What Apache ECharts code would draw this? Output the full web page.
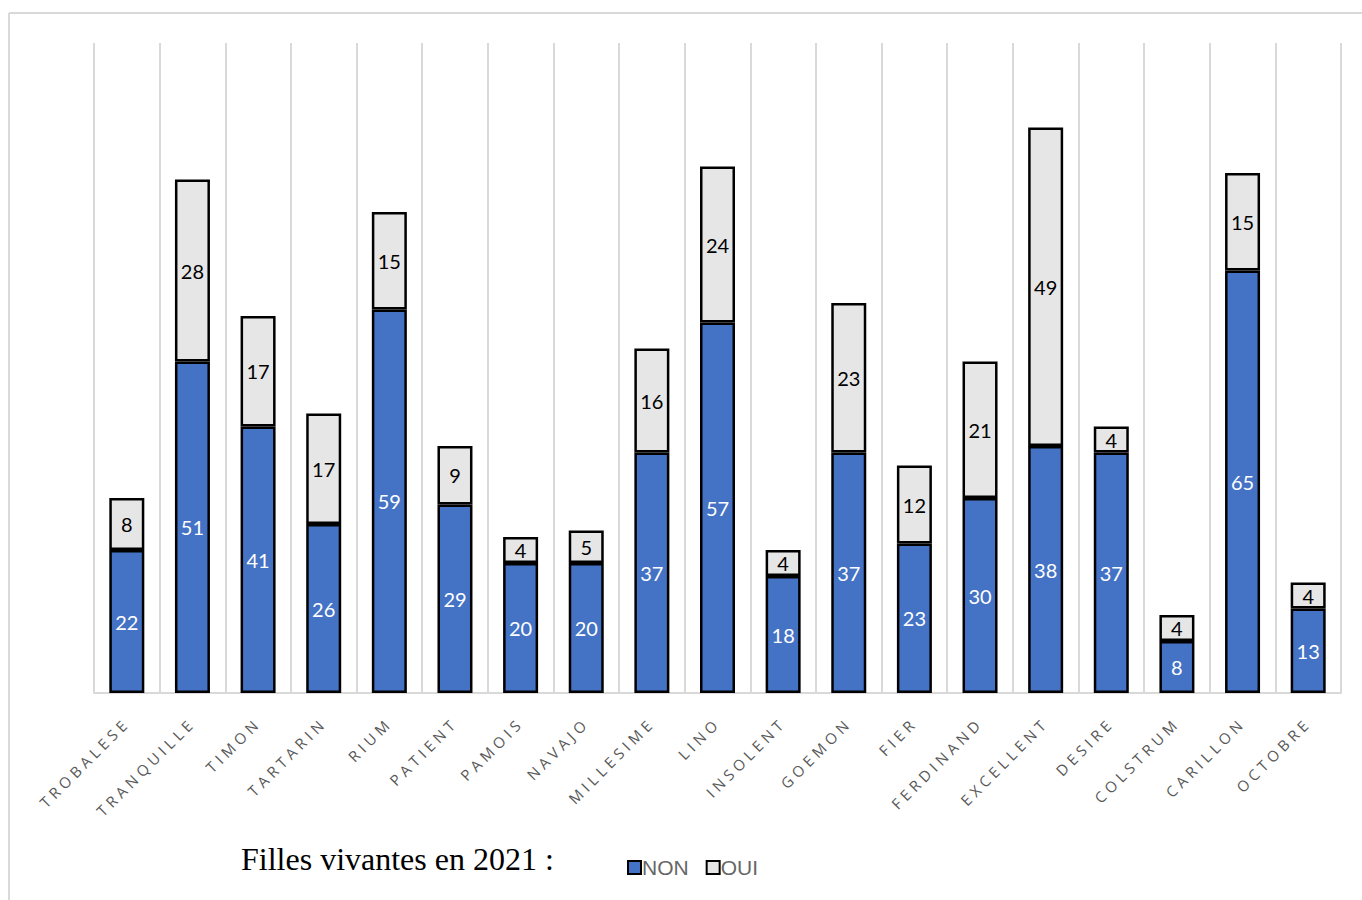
<!DOCTYPE html>
<html>
<head>
<meta charset="utf-8">
<script src="https://cdn.jsdelivr.net/npm/echarts@6/dist/echarts.min.js"></script>
<style>
html,body{margin:0;padding:0;background:#fff;}
#chart{width:1362px;height:900px;}
#chart text[fill="#595959"]{letter-spacing:4.3px;}
</style>
</head>
<body>
<div id="chart"></div>
<script>
const categories = ["TROBALESE","TRANQUILLE","TIMON","TARTARIN","RIUM","PATIENT","PAMOIS","NAVAJO","MILLESIME","LINO","INSOLENT","GOEMON","FIER","FERDINAND","EXCELLENT","DESIRE","COLSTRUM","CARILLON","OCTOBRE"];
const nonValues = [22,51,41,26,59,29,20,20,37,57,18,37,23,30,38,37,8,65,13];
const ouiValues = [8,28,17,17,15,9,4,5,16,24,4,23,12,21,49,4,4,15,4];
const legendTitle = "Filles vivantes en 2021 :";

const chart = echarts.init(document.getElementById('chart'), null, {renderer:'svg'});
chart.setOption({
  backgroundColor:'#fff',
  animation:false,
  graphic:[
    {type:'line', shape:{x1:9,y1:13,x2:1362,y2:13}, style:{stroke:'#d9d9d9',lineWidth:2}},
    {type:'line', shape:{x1:9,y1:13,x2:9,y2:900}, style:{stroke:'#d9d9d9',lineWidth:2}},
    {type:'text', left:241, top:843, style:{text:legendTitle, font:'32px "Liberation Serif"', fill:'#000'}}
  ],
  legend:{
    left:622, top:852,
    itemWidth:13, itemHeight:13, itemGap:17,
    icon:'rect',
    textStyle:{color:'#666', fontSize:21, fontFamily:'"Liberation Sans", sans-serif', padding:[1,0,0,-4]},
    data:[
      {name:'NON', itemStyle:{color:'#4472C4', borderColor:'#000', borderWidth:2}},
      {name:'OUI', itemStyle:{color:'#E7E6E6', borderColor:'#000', borderWidth:2}}
    ]
  },
  grid:{left:94, right:21, top:43, bottom:207},
  xAxis:{
    type:'category',
    data:categories,
    axisLine:{show:true, lineStyle:{color:'#d9d9d9', width:2}},
    axisTick:{show:false},
    splitLine:{show:true, lineStyle:{color:'#d9d9d9', width:2}},
    axisLabel:{
      interval:0, rotate:45, margin:27,
      color:'#595959', fontSize:15,
      fontFamily:'"Open Sans", sans-serif'
    }
  },
  yAxis:{type:'value', min:0, max:100, show:false, splitLine:{show:false}},
  series:[
    {
      name:'NON', type:'bar', stack:'t', data:nonValues, barWidth:35,
      itemStyle:{color:'#4472C4', borderColor:'#000', borderWidth:2.5},
      label:{show:true, position:'inside', color:'#fff', fontSize:20, fontFamily:'Lato, sans-serif'}
    },
    {
      name:'OUI', type:'bar', stack:'t', data:ouiValues, barWidth:35,
      itemStyle:{color:'#E7E6E6', borderColor:'#000', borderWidth:2.5},
      label:{show:true, position:'inside', color:'#000', fontSize:20, fontFamily:'Lato, sans-serif'}
    }
  ]
});
</script>
</body>
</html>
